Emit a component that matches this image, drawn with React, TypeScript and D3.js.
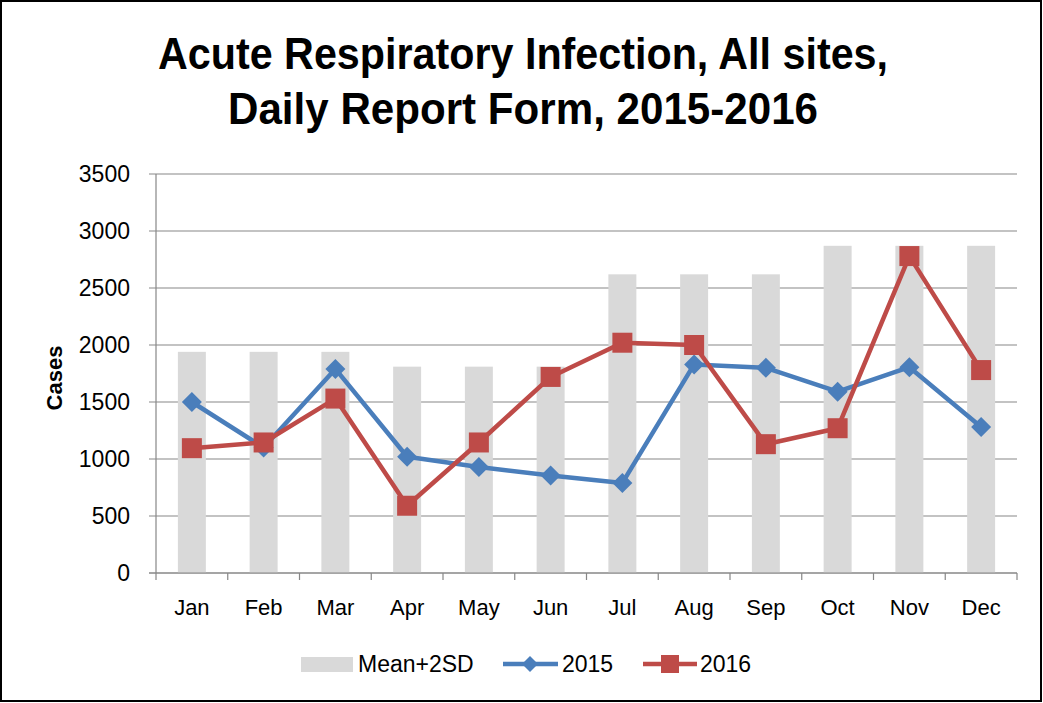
import React from "react";
import * as d3 from "d3";

const months = ["Jan", "Feb", "Mar", "Apr", "May", "Jun", "Jul", "Aug", "Sep", "Oct", "Nov", "Dec"];
const meanPlus2SD = [1940, 1940, 1940, 1810, 1810, 1810, 2620, 2620, 2620, 2870, 2870, 2870];
const cases2015 = [1500, 1100, 1790, 1020, 930, 855, 790, 1830, 1800, 1590, 1805, 1280];
const cases2016 = [1095, 1145, 1530, 590, 1145, 1720, 2020, 2000, 1130, 1270, 2780, 1780];
const yTicks = [0, 500, 1000, 1500, 2000, 2500, 3000, 3500];

const W = 1043;
const H = 703;
const FONT = "'Liberation Sans', Arial, sans-serif";
const BLUE = "#4A7EBB";
const RED = "#BE4B48";

export default function App() {
  const left = 156;
  const right = 1017;
  const top = 174;
  const bottom = 573;

  const x = d3.scaleBand<string>().domain(months).range([left, right]).paddingInner(0.61).paddingOuter(0.305);
  const xc = (m: string) => (x(m) as number) + x.bandwidth() / 2;
  const y = d3.scaleLinear().domain([0, 3500]).range([bottom, top]);
  const step = (right - left) / months.length;

  const line = d3
    .line<number>()
    .x((_, i) => xc(months[i]))
    .y((d) => y(d));

  const diamond = (cx: number, cy: number, r: number) =>
    `M${cx},${cy - r}L${cx + r},${cy}L${cx},${cy + r}L${cx - r},${cy}Z`;

  return (
    <svg width={W} height={H} style={{ position: "absolute", left: 0, top: 0, background: "#fff" }}>
      <rect x={1} y={1} width={W - 3} height={H - 3} fill="#fff" stroke="#000" strokeWidth={2} />
      <text x={158} y={69} textLength={730} lengthAdjust="spacingAndGlyphs" fontFamily={FONT} fontWeight="bold" fontSize={44} fill="#000">
        Acute Respiratory Infection, All sites,
      </text>
      <text x={228} y={124} textLength={590} lengthAdjust="spacingAndGlyphs" fontFamily={FONT} fontWeight="bold" fontSize={44} fill="#000">
        Daily Report Form, 2015-2016
      </text>

      {/* gridlines */}
      {yTicks.map((t) => (
        <line key={"g" + t} x1={left - 7} x2={right} y1={y(t)} y2={y(t)} stroke="#878787" strokeWidth={1.2} />
      ))}
      {yTicks.map((t) => (
        <text key={"yl" + t} x={130} y={y(t) + 8} textAnchor="end" fontFamily={FONT} fontSize={23} fill="#000">
          {t}
        </text>
      ))}
      <text
        transform={`translate(${62},${378}) rotate(-90)`}
        textAnchor="middle"
        fontFamily={FONT}
        fontWeight="bold"
        fontSize={22}
        fill="#000"
      >
        Cases
      </text>

      {/* bars */}
      {months.map((m, i) => (
        <rect key={"b" + m} x={x(m)} y={y(meanPlus2SD[i])} width={x.bandwidth()} height={bottom - y(meanPlus2SD[i])} fill="#D9D9D9" />
      ))}

      {/* axes */}
      <line x1={left} x2={left} y1={top} y2={bottom} stroke="#878787" strokeWidth={1.2} />
      <line x1={left - 7} x2={right} y1={bottom} y2={bottom} stroke="#878787" strokeWidth={1.2} />
      {d3.range(months.length + 1).map((i) => (
        <line key={"xt" + i} x1={left + i * step} x2={left + i * step} y1={bottom} y2={bottom + 7} stroke="#878787" strokeWidth={1.2} />
      ))}
      {months.map((m) => (
        <text key={"xl" + m} x={xc(m)} y={615} textAnchor="middle" fontFamily={FONT} fontSize={22} fill="#000">
          {m}
        </text>
      ))}

      {/* series */}
      <path d={line(cases2015) as string} fill="none" stroke={BLUE} strokeWidth={4.5} strokeLinejoin="round" />
      {cases2015.map((v, i) => (
        <path key={"d" + i} d={diamond(xc(months[i]), y(v), 10)} fill={BLUE} />
      ))}
      <path d={line(cases2016) as string} fill="none" stroke={RED} strokeWidth={4.5} strokeLinejoin="round" />
      {cases2016.map((v, i) => (
        <rect key={"s" + i} x={xc(months[i]) - 10} y={y(v) - 10} width={20} height={20} fill={RED} />
      ))}

      {/* legend */}
      <rect x={301} y={657} width={52} height={15} fill="#D9D9D9" />
      <text x={358} y={672} fontFamily={FONT} fontSize={23} fill="#000">Mean+2SD</text>
      <line x1={503} x2={558} y1={664} y2={664} stroke={BLUE} strokeWidth={4.5} />
      <path d={diamond(530, 664, 8)} fill={BLUE} />
      <text x={562} y={672} fontFamily={FONT} fontSize={23} fill="#000">2015</text>
      <line x1={643} x2={697} y1={664} y2={664} stroke={RED} strokeWidth={4.5} />
      <rect x={661} y={655} width={18} height={18} fill={RED} />
      <text x={700} y={672} fontFamily={FONT} fontSize={23} fill="#000">2016</text>
    </svg>
  );
}
